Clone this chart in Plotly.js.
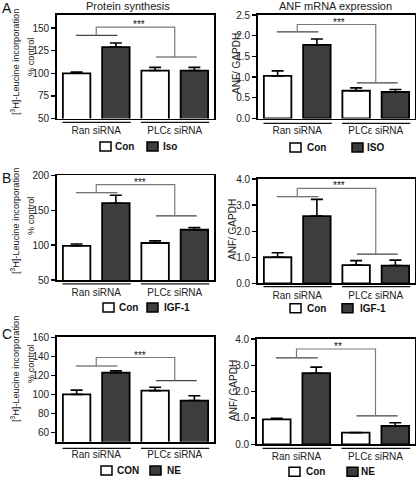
<!DOCTYPE html>
<html>
<head>
<meta charset="utf-8">
<script src="https://cdn.plot.ly/plotly-3.0.1.min.js"></script>
<style>html,body{margin:0;padding:0;background:#fff;}#chart{width:416px;height:477px;}</style>
</head>
<body>
<div id="chart"></div>
<script>
// ---------- data ----------
const groups = ['Ran siRNA', 'PLCε siRNA'];

// Panel A
const protA_con = [100, 103];
const protA_iso = [129, 103];
const protA_conErr = [1.5, 3.5];
const protA_isoErr = [4.5, 3.5];
const anfA_con = [1.03, 0.67];
const anfA_iso = [1.78, 0.64];
const anfA_conErr = [0.12, 0.07];
const anfA_isoErr = [0.14, 0.06];

// Panel B
const protB_con = [99, 103];
const protB_igf = [160, 122];
const protB_conErr = [2.5, 3];
const protB_igfErr = [11.5, 3];
const anfB_con = [1.0, 0.70];
const anfB_igf = [2.58, 0.68];
const anfB_conErr = [0.17, 0.17];
const anfB_igfErr = [0.64, 0.21];

// Panel C
const protC_con = [100, 104];
const protC_ne = [123, 93.5];
const protC_conErr = [4.5, 3.5];
const protC_neErr = [2, 5];
const anfC_con = [0.95, 0.44];
const anfC_ne = [2.70, 0.70];
const anfC_conErr = [0.04, 0.01];
const anfC_neErr = [0.23, 0.12];

// significance brackets: [Ran line level, bracket top, PLC line level]
const sigA_prot = [142, 151, 118];
const sigA_anf = [2.09, 2.27, 0.86];
const sigB_prot = [175, 186.5, 142];
const sigB_anf = [3.32, 3.64, 1.12];
const sigC_prot = [130, 139, 114.6];
const sigC_anf = [3.28, 3.62, 1.08];
const sigLabels = ['***', '***', '***', '***', '***', '**'];

// legend names
const legendNames = [['Con', 'Iso'], ['Con', 'ISO'], ['Con', 'IGF-1'], ['Con', 'IGF-1'], ['CON', 'NE'], ['Con', 'NE']];

// ---------- layout helpers ----------
const W = 416, H = 477;
const PX = x => x / W;
const PY = y => 1 - y / H;
const FONT = 'Arial, "Liberation Sans", sans-serif';
const DARK = '#3d3d3d';

const panels = [
  {con: protA_con, trt: protA_iso, conErr: protA_conErr, trtErr: protA_isoErr, sig: sigA_prot,
   px: [57, 214], py: [14.5, 118.5], range: [50, 165], tick0: 50, dtick: 25, fmt: 'd',
   under: 122.3, leg: {y: 146.5, b1: 100, t1: 113, b2: 147, t2: 161}, starX: 0.55},
  {con: anfA_con, trt: anfA_iso, conErr: anfA_conErr, trtErr: anfA_isoErr, sig: sigA_anf,
   px: [258, 415], py: [15, 118.5], range: [0, 2.5], tick0: 0, dtick: 0.5, fmt: '.1f',
   under: 123.3, leg: {y: 147.5, b1: 290, t1: 305, b2: 352, t2: 365}, starX: 0.53},
  {con: protB_con, trt: protB_igf, conErr: protB_conErr, trtErr: protB_igfErr, sig: sigB_prot,
   px: [57, 214], py: [175.3, 280], range: [50, 200], tick0: 50, dtick: 50, fmt: 'd',
   under: 283.8, leg: {y: 307.5, b1: 103, t1: 117, b2: 147, t2: 162}, starX: 0.56},
  {con: anfB_con, trt: anfB_igf, conErr: anfB_conErr, trtErr: anfB_igfErr, sig: sigB_anf,
   px: [258, 415], py: [179, 283.3], range: [0, 4], tick0: 0, dtick: 1, fmt: '.1f',
   under: 286.7, leg: {y: 308.3, b1: 290, t1: 305, b2: 342, t2: 358}, starX: 0.53},
  {con: protC_con, trt: protC_ne, conErr: protC_conErr, trtErr: protC_neErr, sig: sigC_prot,
   px: [57, 214], py: [336.7, 441.7], range: [50, 161], tick0: 60, dtick: 20, fmt: 'd',
   under: 448.3, leg: {y: 470.5, b1: 101, t1: 115, b2: 150, t2: 165}, starX: 0.56},
  {con: anfC_con, trt: anfC_ne, conErr: anfC_conErr, trtErr: anfC_neErr, sig: sigC_anf,
   px: [257, 415], py: [339, 444.3], range: [0, 4], tick0: 0, dtick: 1, fmt: '.1f',
   under: 448.3, leg: {y: 471.7, b1: 289, t1: 304, b2: 347, t2: 359}, starX: 0.53}
];

const traces = [];
const shapes = [];
const annotations = [];
const layout = {
  width: W, height: H,
  margin: {l: 0, r: 0, t: 0, b: 0},
  paper_bgcolor: '#fff', plot_bgcolor: '#fff',
  showlegend: false,
  barmode: 'group', bargap: 0, bargroupgap: 0.3,
  font: {family: FONT, color: '#222', size: 10},
  shapes: shapes, annotations: annotations
};

panels.forEach((p, i) => {
  const n = i + 1;
  const xa = n === 1 ? 'x' : 'x' + n;
  const ya = n === 1 ? 'y' : 'y' + n;
  const xKey = n === 1 ? 'xaxis' : 'xaxis' + n;
  const yKey = n === 1 ? 'yaxis' : 'yaxis' + n;
  const zeros = p.con.map(() => 0);

  traces.push({
    type: 'bar', x: groups, y: p.con, xaxis: xa, yaxis: ya, name: legendNames[i][0],
    marker: {color: '#ffffff', line: {color: '#000', width: 1.8}},
    error_y: {type: 'data', array: p.conErr, arrayminus: zeros, symmetric: false,
              color: '#000', thickness: 1.6, width: 6},
    hoverinfo: 'skip'
  });
  traces.push({
    type: 'bar', x: groups, y: p.trt, xaxis: xa, yaxis: ya, name: legendNames[i][1],
    marker: {color: DARK, line: {color: '#000', width: 1.8}},
    error_y: {type: 'data', array: p.trtErr, arrayminus: zeros, symmetric: false,
              color: '#000', thickness: 1.6, width: 6},
    hoverinfo: 'skip'
  });

  layout[xKey] = {
    domain: [PX(p.px[0]), PX(p.px[1])], anchor: ya,
    type: 'category', range: [-0.5, 1.5],
    showline: true, mirror: true, linecolor: '#000', linewidth: 1.8,
    ticks: '', showgrid: false, zeroline: false,
    tickfont: {family: FONT, size: 10, color: '#222'},
    ticklabelstandoff: 2, fixedrange: true
  };
  layout[yKey] = {
    domain: [PY(p.py[1]), PY(p.py[0])], anchor: xa,
    range: p.range, tick0: p.tick0, dtick: p.dtick, tickformat: p.fmt,
    showline: true, mirror: true, linecolor: '#000', linewidth: 1.8,
    ticks: 'outside', ticklen: 4, tickwidth: 1.3, tickcolor: '#000',
    showgrid: false, zeroline: false,
    tickfont: {family: FONT, size: 10, color: '#222'}, fixedrange: true
  };

  // group underlines below the axis
  groups.forEach((g, gi) => {
    shapes.push({type: 'line', xref: xa, yref: 'paper',
      x0: gi - 0.43, x1: gi + 0.44, y0: PY(p.under), y1: PY(p.under),
      line: {color: '#111', width: 1.3}});
  });

  // significance bracket
  const [ranLvl, topLvl, plcLvl] = p.sig;
  shapes.push({type: 'line', xref: xa, yref: ya, x0: -0.26, x1: 0.27, y0: ranLvl, y1: ranLvl,
    line: {color: '#444', width: 1.2}});
  shapes.push({type: 'line', xref: xa, yref: ya, x0: 1 - 0.24, x1: 1 + 0.28, y0: plcLvl, y1: plcLvl,
    line: {color: '#444', width: 1.2}});
  shapes.push({type: 'path', xref: xa, yref: ya,
    path: `M 0 ${ranLvl} L 0 ${topLvl} L 1 ${topLvl} L 1 ${plcLvl}`,
    line: {color: '#7a7a7a', width: 1.2}});
  annotations.push({xref: xa, yref: ya, x: p.starX, y: topLvl, text: sigLabels[i],
    showarrow: false, xanchor: 'center', yanchor: 'bottom', yshift: -5,
    font: {family: FONT, size: 10, color: '#111'}});

  // legend (boxes + bold labels)
  const L = p.leg;
  const bh = 4.5;
  shapes.push({type: 'rect', xref: 'paper', yref: 'paper',
    x0: PX(L.b1), x1: PX(L.b1 + 11), y0: PY(L.y + bh), y1: PY(L.y - bh),
    fillcolor: '#fff', line: {color: '#000', width: 1.5}});
  shapes.push({type: 'rect', xref: 'paper', yref: 'paper',
    x0: PX(L.b2), x1: PX(L.b2 + 11), y0: PY(L.y + bh), y1: PY(L.y - bh),
    fillcolor: DARK, line: {color: '#000', width: 1.5}});
  annotations.push({xref: 'paper', yref: 'paper', x: PX(L.t1), y: PY(L.y), text: '<b>' + legendNames[i][0] + '</b>',
    showarrow: false, xanchor: 'left', yanchor: 'middle', font: {family: FONT, size: 10, color: '#111'}});
  annotations.push({xref: 'paper', yref: 'paper', x: PX(L.t2), y: PY(L.y), text: '<b>' + legendNames[i][1] + '</b>',
    showarrow: false, xanchor: 'left', yanchor: 'middle', font: {family: FONT, size: 10, color: '#111'}});
});

// Y axis titles
const leftTitleY = [62, 221, 369];
const rightTitle = [[236, 64], [233, 230], [233, 391]];
leftTitleY.forEach(y => {
  annotations.push({xref: 'paper', yref: 'paper', x: PX(15), y: PY(y), text: '[<sup>3</sup>H]-Leucine incorporation',
    textangle: -90, showarrow: false, xanchor: 'center', yanchor: 'middle', font: {family: FONT, size: 9.2, color: '#222'}});
  annotations.push({xref: 'paper', yref: 'paper', x: PX(31), y: PY(y - 5), text: '% control',
    textangle: -90, showarrow: false, xanchor: 'center', yanchor: 'middle', font: {family: FONT, size: 9.2, color: '#222'}});
});
rightTitle.forEach(([x, y]) => {
  annotations.push({xref: 'paper', yref: 'paper', x: PX(x), y: PY(y), text: 'ANF/ GAPDH',
    textangle: -90, showarrow: false, xanchor: 'center', yanchor: 'middle', font: {family: FONT, size: 10, color: '#222'}});
});

// Panel titles & letters
annotations.push({xref: 'paper', yref: 'paper', x: PX(128), y: PY(6), text: 'Protein synthesis',
  showarrow: false, xanchor: 'center', yanchor: 'middle', font: {family: FONT, size: 11, color: '#222'}});
annotations.push({xref: 'paper', yref: 'paper', x: PX(335), y: PY(6), text: 'ANF mRNA expression',
  showarrow: false, xanchor: 'center', yanchor: 'middle', font: {family: FONT, size: 11, color: '#222'}});
[['A', 8], ['B', 178], ['C', 334]].forEach(([t, y]) => {
  annotations.push({xref: 'paper', yref: 'paper', x: PX(0), y: PY(y), text: t,
    showarrow: false, xanchor: 'left', yanchor: 'middle', font: {family: FONT, size: 14, color: '#111'}});
});

Plotly.newPlot('chart', traces, layout, {staticPlot: true, displayModeBar: false});
</script>
</body>
</html>
